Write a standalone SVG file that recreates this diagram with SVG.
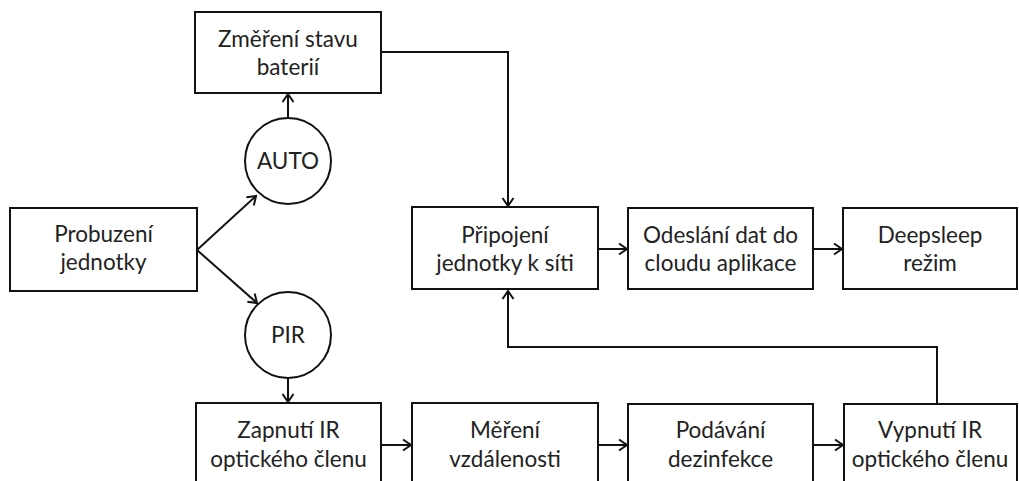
<svg xmlns="http://www.w3.org/2000/svg" width="1019" height="481" viewBox="0 0 1019 481">
<style>
.box{fill:#fff;stroke:#111;stroke-width:2}
.t{font-family:Lato,"Open Sans","Liberation Sans",sans-serif;font-size:22.5px;fill:#222;text-anchor:middle}
.c{fill:none;stroke:#111;stroke-width:2}
</style>
<defs>
<marker id="a" markerUnits="userSpaceOnUse" markerWidth="14" markerHeight="14" refX="11" refY="7" orient="auto">
<path d="M3,1.5 L11,7 L3,12.5" fill="none" stroke="#111" stroke-width="2"/>
</marker>
</defs>
<rect width="1019" height="481" fill="#fff"/>
<g id="connectors">
<line class="c" x1="197" y1="250" x2="256" y2="196" marker-end="url(#a)"/>
<line class="c" x1="197" y1="250" x2="257" y2="303" marker-end="url(#a)"/>
<line class="c" x1="288" y1="118" x2="288" y2="94" marker-end="url(#a)"/>
<line class="c" x1="288" y1="378" x2="288" y2="402" marker-end="url(#a)"/>
<polyline class="c" points="381,52 508,52 508,206" marker-end="url(#a)"/>
<line class="c" x1="598" y1="249" x2="627" y2="249" marker-end="url(#a)"/>
<line class="c" x1="813" y1="249" x2="842" y2="249" marker-end="url(#a)"/>
<line class="c" x1="381" y1="445" x2="411" y2="445" marker-end="url(#a)"/>
<line class="c" x1="598" y1="445" x2="627" y2="445" marker-end="url(#a)"/>
<line class="c" x1="813" y1="445" x2="843" y2="445" marker-end="url(#a)"/>
<polyline class="c" points="937,404 937,347 508,347 508,291" marker-end="url(#a)"/>
</g>
<g id="zmereni"><rect class="box" x="195" y="12" width="186" height="81"/><text class="t" x="288" y="47">Změření stavu</text><text class="t" x="288" y="75">baterií</text></g>
<g id="probuzeni"><rect class="box" x="10" y="208" width="187" height="83"/><text class="t" x="103.5" y="242">Probuzení</text><text class="t" x="103.5" y="270">jednotky</text></g>
<g id="auto"><circle class="box" cx="288" cy="161" r="43"/><text class="t" x="288" y="169">AUTO</text></g>
<g id="pir"><circle class="box" cx="288" cy="335" r="43"/><text class="t" x="288" y="343">PIR</text></g>
<g id="pripojeni"><rect class="box" x="412" y="207" width="186" height="82"/><text class="t" x="505" y="243">Připojení</text><text class="t" x="505" y="271">jednotky k síti</text></g>
<g id="odeslani"><rect class="box" x="628" y="208" width="185" height="81"/><text class="t" x="720.5" y="243">Odeslání dat do</text><text class="t" x="720.5" y="271">cloudu aplikace</text></g>
<g id="deepsleep"><rect class="box" x="843" y="208" width="174" height="81"/><text class="t" x="930" y="243">Deepsleep</text><text class="t" x="930" y="271">režim</text></g>
<g id="zapnuti"><rect class="box" x="196" y="403" width="185" height="82"/><text class="t" x="288.5" y="438">Zapnutí IR</text><text class="t" x="288.5" y="467">optického členu</text></g>
<g id="mereni"><rect class="box" x="412" y="403" width="186" height="82"/><text class="t" x="505" y="438">Měření</text><text class="t" x="505" y="467">vzdálenosti</text></g>
<g id="podavani"><rect class="box" x="628" y="404" width="185" height="81"/><text class="t" x="720.5" y="438">Podávání</text><text class="t" x="720.5" y="467">dezinfekce</text></g>
<g id="vypnuti"><rect class="box" x="844" y="404" width="173" height="81"/><text class="t" x="930" y="438">Vypnutí IR</text><text class="t" x="930" y="467">optického členu</text></g>
</svg>
